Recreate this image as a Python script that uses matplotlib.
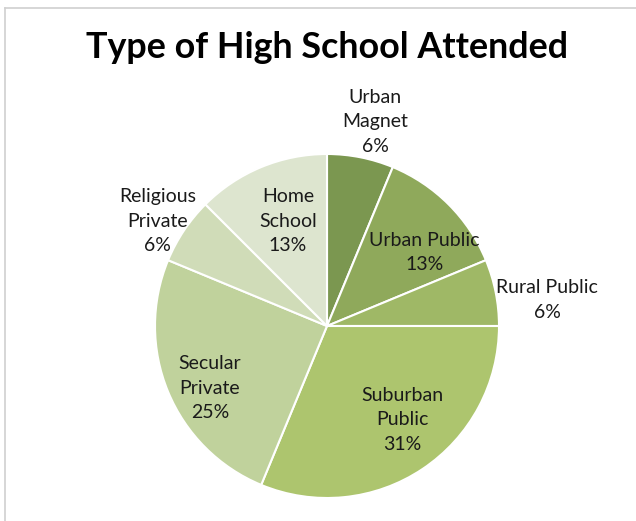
import matplotlib
matplotlib.use("Agg")
import matplotlib.pyplot as plt
import numpy as np
from matplotlib.lines import Line2D

# counts out of 16 respondents
categories = ["Urban\nMagnet", "Urban Public", "Rural Public", "Suburban\nPublic",
              "Secular\nPrivate", "Religious\nPrivate", "Home\nSchool"]
counts = [1, 2, 1, 5, 4, 1, 2]
colors = ["#7b9750", "#8fa95b", "#9fb866", "#adc56e", "#c0d29c", "#d0dcb8", "#dde5cf"]
# label placement: radial distance and angle shift from wedge middle (deg)
label_dist = [1.22, 0.71, 1.29, 0.70, 0.77, 1.16, 0.65]
label_shift = [-2, -8, -4.5, 5, 5.5, 2, -2]

W, H = 636, 521
cx, cy, R = 327, 326, 172  # pie centre / radius in pixels

fig = plt.figure(figsize=(W / 100, H / 100), dpi=100)
ax = fig.add_axes([0, 0, 1, 1])

wedges, _ = ax.pie(counts, colors=colors, startangle=90, counterclock=False,
                   radius=1, wedgeprops=dict(edgecolor="white", linewidth=1.5))

# pie() resets the limits, so set them afterwards
ax.set_aspect("auto")
ax.set_xlim(-cx / R, (W - cx) / R)
ax.set_ylim(-(H - cy) / R, cy / R)
ax.axis("off")

total = sum(counts)
for w, lab, n, d, s in zip(wedges, categories, counts, label_dist, label_shift):
    mid = np.deg2rad((w.theta1 + w.theta2) / 2 + s)
    pct = f"{int(100 * n / total + 0.5)}%"
    ax.text(d * np.cos(mid), d * np.sin(mid), f"{lab}\n{pct}", ha="center", va="center",
            fontsize=14, family="Lato", color="#1a1a1a", linespacing=1.55)

fig.text(cx / W, 1 - 47 / H, "Type of High School Attended", ha="center", va="center",
         fontsize=25.8, fontweight="bold", family="Lato", color="black")

# chart frame
fig.add_artist(Line2D([5 / W, 1], [1 - 8 / H, 1 - 8 / H], color="#d0d0d0", lw=1.2))
fig.add_artist(Line2D([5 / W, 5 / W], [0, 1 - 8 / H], color="#d0d0d0", lw=1.2))

fig.savefig("out.png", dpi=100)
